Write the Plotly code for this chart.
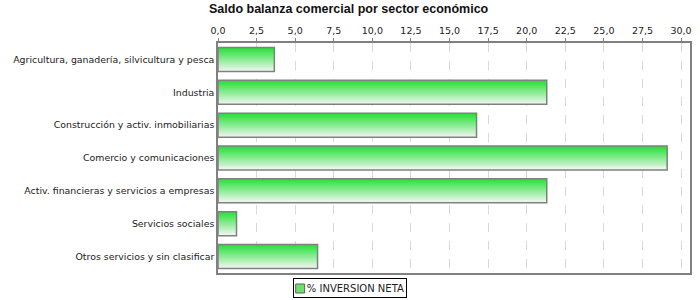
import plotly.graph_objects as go

categories = [
    "Agricultura, ganadería, silvicultura y pesca",
    "Industria",
    "Construcción y activ. inmobiliarias",
    "Comercio y comunicaciones",
    "Activ. financieras y servicios a empresas",
    "Servicios sociales",
    "Otros servicios y sin clasificar",
]
values = [3.65, 21.3, 16.75, 29.1, 21.3, 1.2, 6.45]
series_name = "% INVERSION NETA"
title = "Saldo balanza comercial por sector económico"

top_rgb = (34, 224, 54)
bot_rgb = (236, 246, 236)
bar_w = 0.73
n_slices = 24

W, H = 700, 300
fig = go.Figure()
for k in range(n_slices):
    t = k / (n_slices - 1)
    c = tuple(round(top_rgb[i] + (bot_rgb[i] - top_rgb[i]) * t) for i in range(3))
    fig.add_trace(go.Bar(
        x=values, y=categories, orientation="h",
        width=bar_w / n_slices + 0.004,
        offset=-bar_w / 2 + k * bar_w / n_slices,
        marker=dict(color="rgb(%d,%d,%d)" % c, line=dict(width=0)),
        showlegend=False, hoverinfo="skip",
    ))
# outline
fig.add_trace(go.Bar(
    x=values, y=categories, orientation="h", name=series_name,
    width=bar_w, offset=-bar_w / 2,
    marker=dict(color="rgba(0,0,0,0)", line=dict(color="#808080", width=1.5)),
    showlegend=False,
))

# legend box (annotation) with key swatch
fig.add_annotation(
    text=series_name, xref="paper", yref="paper",
    x=(408 - 218) / (692 - 218), y=(273 - 288) / (273 - 43),
    xanchor="right", yanchor="middle", showarrow=False,
    width=108, align="right", height=14,
    bordercolor="black", borderwidth=1, borderpad=2, bgcolor="rgba(0,0,0,0)",
    font=dict(family="DejaVu Sans, sans-serif", size=10, color="#222222"),
)
fig.add_shape(
    type="rect", xref="paper", yref="paper", layer="above",
    x0=(296 - 218) / (692 - 218), x1=(305 - 218) / (692 - 218),
    y0=(273 - 284) / (273 - 43), y1=(273 - 293) / (273 - 43),
    fillcolor="rgb(110,222,110)", line=dict(color="#606060", width=1),
)

fig.update_layout(
    width=W, height=H,
    margin=dict(l=218, r=8, t=43, b=27),
    paper_bgcolor="white", plot_bgcolor="white",
    barmode="overlay",
    separators=",.",
    showlegend=False,
    font=dict(family="DejaVu Sans, sans-serif", size=10, color="#222222"),
    title=dict(text="<b>" + title + "</b>", x=209 / W, xanchor="left",
               y=1 - 9 / H, yanchor="middle", xref="container", yref="container",
               font=dict(family="Liberation Sans, Arial, sans-serif", size=12.5, color="#111111")),
    xaxis=dict(
        side="top", range=[0, 30.58], dtick=2.5, tick0=0, tickformat=".1f",
        showgrid=True, gridcolor="#d8d8d8", griddash="dash", gridwidth=1,
        showline=True, linecolor="#808080", linewidth=1.5, mirror=True,
        ticks="outside", ticklen=3, tickcolor="#808080",
        zeroline=False, fixedrange=True,
        tickfont=dict(family="DejaVu Sans, sans-serif", size=9.5, color="#222222"),
    ),
    yaxis=dict(
        type="category", autorange="reversed",
        showline=True, linecolor="#808080", linewidth=1.5, mirror=True,
        ticks="", ticklen=0, showgrid=False,
        tickfont=dict(family="DejaVu Sans, sans-serif", size=9.4, color="#222222"),
    ),
)

fig.write_html("out.html")
